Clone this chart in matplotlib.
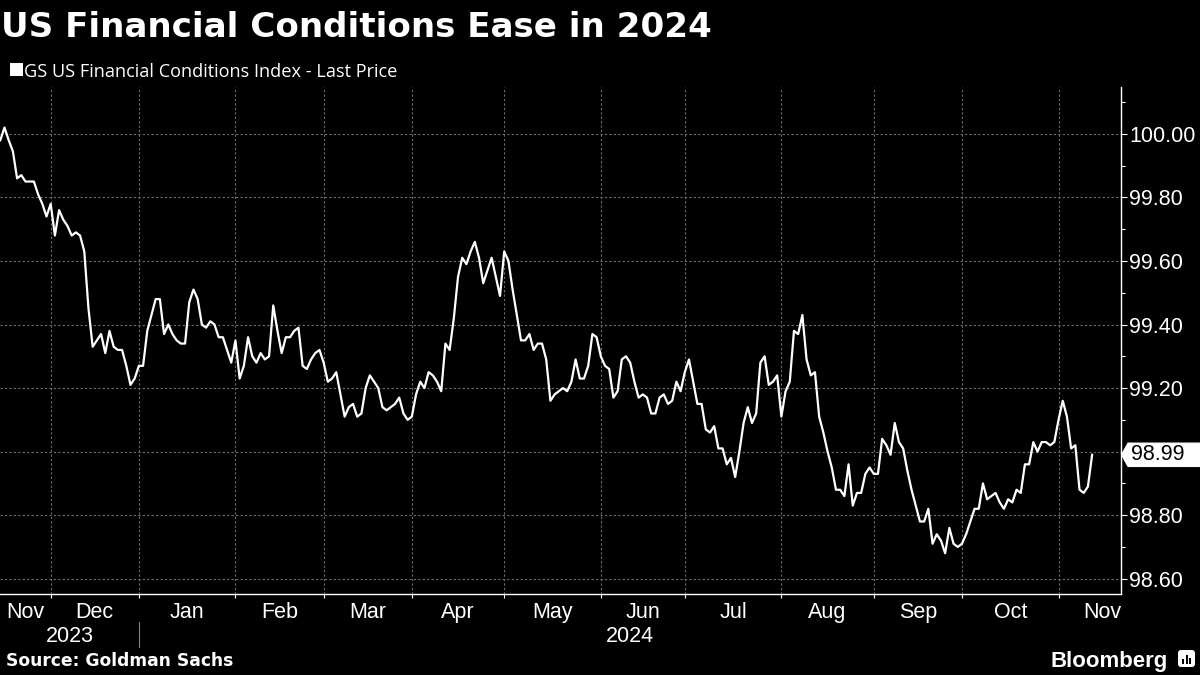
import numpy as np
import pandas as pd
import matplotlib
matplotlib.use('Agg')
import matplotlib.pyplot as plt
import matplotlib.ticker as mticker
import matplotlib.transforms as mtransforms
from matplotlib.path import Path
from matplotlib.patches import Rectangle, FancyBboxPatch

# GS US Financial Conditions Index, one value per weekday
start_date = '2023-11-15'
values = [
    99.98, 100.02, 99.98, 99.945, 99.86, 99.87, 99.85, 99.85, 99.85, 99.81,
    99.78, 99.74, 99.78, 99.68, 99.76, 99.73, 99.71, 99.68, 99.69, 99.68,
    99.63, 99.45, 99.33, 99.35, 99.37, 99.31, 99.38, 99.33, 99.32, 99.32,
    99.27, 99.21, 99.23, 99.27, 99.27, 99.38, 99.43, 99.48, 99.48, 99.37,
    99.40, 99.37, 99.35, 99.34, 99.34, 99.47, 99.51, 99.48, 99.40, 99.39,
    99.41, 99.40, 99.36, 99.36, 99.32, 99.28, 99.35, 99.23, 99.27, 99.36,
    99.30, 99.28, 99.31, 99.29, 99.30, 99.46, 99.38, 99.31, 99.36, 99.36,
    99.38, 99.39, 99.27, 99.26, 99.29, 99.31, 99.32, 99.28, 99.22, 99.23,
    99.25, 99.18, 99.11, 99.14, 99.15, 99.11, 99.12, 99.20, 99.24, 99.22,
    99.20, 99.14, 99.13, 99.14, 99.15, 99.17, 99.12, 99.10, 99.11, 99.18,
    99.22, 99.20, 99.25, 99.24, 99.22, 99.19, 99.34, 99.32, 99.42, 99.55,
    99.61, 99.59, 99.63, 99.66, 99.61, 99.53, 99.57, 99.61, 99.55, 99.49,
    99.63, 99.60, 99.51, 99.43, 99.35, 99.35, 99.37, 99.32, 99.34, 99.34,
    99.29, 99.16, 99.18, 99.19, 99.20, 99.19, 99.22, 99.29, 99.23, 99.23,
    99.27, 99.37, 99.36, 99.30, 99.27, 99.26, 99.17, 99.19, 99.29, 99.30,
    99.28, 99.22, 99.17, 99.18, 99.17, 99.12, 99.12, 99.17, 99.18, 99.15,
    99.16, 99.22, 99.19, 99.25, 99.29, 99.22, 99.15, 99.15, 99.07, 99.06,
    99.08, 99.01, 99.01, 98.96, 98.98, 98.92, 99.00, 99.09, 99.14, 99.09,
    99.12, 99.28, 99.30, 99.21, 99.22, 99.24, 99.11, 99.19, 99.22, 99.38,
    99.37, 99.43, 99.29, 99.24, 99.25, 99.11, 99.06, 99.00, 98.95, 98.88,
    98.88, 98.86, 98.96, 98.83, 98.87, 98.87, 98.93, 98.95, 98.93, 98.93,
    99.04, 99.02, 98.99, 99.09, 99.03, 99.01, 98.94, 98.88, 98.83, 98.78,
    98.78, 98.82, 98.71, 98.74, 98.72, 98.68, 98.76, 98.71, 98.70, 98.71,
    98.74, 98.78, 98.82, 98.82, 98.90, 98.85, 98.86, 98.87, 98.84, 98.82,
    98.85, 98.84, 98.88, 98.87, 98.96, 98.96, 99.03, 99.00, 99.03, 99.03,
    99.02, 99.03, 99.10, 99.16, 99.11, 99.01, 99.02, 98.88, 98.87, 98.89,
    98.99,
]
ytick_vals = [98.6, 98.8, 99.0, 99.2, 99.4, 99.6, 99.8, 100.0]

title = 'US Financial Conditions Ease in 2024'
series_name = 'GS US Financial Conditions Index - Last Price'
source = 'Source: Goldman Sachs'

plt.rcParams['font.family'] = ['Liberation Sans', 'DejaVu Sans']

dates = pd.bdate_range(start_date, periods=len(values))
x = np.arange(len(values))
xmin, xmax = -0.07, 266.8

# weekday calendar used to place month boundaries on the same index scale
cal = pd.bdate_range('2023-11-01', '2024-12-31')
pos = np.arange(len(cal)) - cal.get_loc(dates[0])
month_start = {}
for k, p in enumerate(cal.to_period('M')):
    if p not in month_start:
        month_start[p] = pos[k]
periods = list(month_start)
boundaries, mids, month_labels = [], [], []
for a, b in zip(periods[:-1], periods[1:]):
    s, e = month_start[a], month_start[b]
    if s >= xmax:
        break
    if s > xmin:
        boundaries.append(s)
    mids.append((max(s, xmin) + e) / 2)
    month_labels.append(a.strftime('%b'))
year_split = month_start[pd.Period('2024-01', 'M')]

fig = plt.figure(figsize=(12, 6.75), dpi=100, facecolor='black')
ax = fig.add_axes([0.0, 0.1196, 0.9339, 0.7508])
ax.set_facecolor('black')

ax.plot(x, values, color='white', lw=1.6, zorder=3)

ax.set_xlim(xmin, xmax)
ax.set_ylim(98.551, 100.146)

for side in ['left', 'top']:
    ax.spines[side].set_visible(False)
for side in ['right', 'bottom']:
    ax.spines[side].set_color('white')
    ax.spines[side].set_linewidth(1.0)

# x axis: ticks at month boundaries, labels centred in each month
ax.set_xticks(boundaries)
ax.set_xticks(mids, minor=True)
ax.set_xticklabels(month_labels, minor=True)
ax.tick_params(axis='x', which='major', labelbottom=False, length=3,
               width=0.8, color='white', direction='out')
ax.tick_params(axis='x', which='minor', length=0, pad=5.5,
               labelsize=15.5, labelcolor='white')

# y axis on the right
ax.yaxis.tick_right()
ax.set_yticks(ytick_vals)
ax.yaxis.set_minor_locator(mticker.AutoMinorLocator(2))
last = values[-1]
ax.yaxis.set_major_formatter(
    mticker.FuncFormatter(lambda v, _: '' if abs(v - last) < 0.05 else f'{v:.2f}'))
ax.tick_params(axis='y', which='major', length=4, width=0.8, color='white',
               direction='out', pad=2, labelsize=15.5, labelcolor='white')
ax.tick_params(axis='y', which='minor', length=3, width=0.8, color='white',
               direction='out')

ax.grid(True, which='major', color='#6e6e6e', lw=0.8, linestyle=(0, (2, 2)))

# year labels under the months
trans = mtransforms.blended_transform_factory(ax.transData, ax.transAxes)
ax.text((xmin + year_split) / 2, -0.094, '2023', transform=trans, ha='center',
        va='baseline', color='white', fontsize=15.5)
ax.text((year_split + xmax) / 2, -0.094, '2024', transform=trans, ha='center',
        va='baseline', color='white', fontsize=15.5)
ax.plot([year_split, year_split], [-0.054, -0.104], transform=trans,
        color='#888888', lw=0.8, clip_on=False)


# last price tag pointing at the axis
def tag_box(x0, y0, width, height, mutation_size):
    m = mutation_size
    left, right = x0 - 0.12 * m, x0 + width + 1.0 * m
    bottom, top = y0 - 0.05 * m, y0 + height + 0.05 * m
    tip = left - 0.3 * m
    verts = [(left, bottom), (right, bottom), (right, top), (left, top),
             (tip, (bottom + top) / 2), (left, bottom)]
    return Path(verts, closed=True)


tag_trans = mtransforms.blended_transform_factory(ax.transAxes, ax.transData)
ax.annotate(f'{last:.2f}', xy=(1, last), xycoords=tag_trans,
            xytext=(7.2, 0), textcoords='offset points', ha='left', va='center',
            color='black', fontsize=15.5, annotation_clip=False, zorder=5,
            bbox=dict(boxstyle=tag_box, fc='white', ec='white'))

# header
fig.text(0.0005, 1 - 36.7 / 675, title, color='white', fontsize=24.6,
         fontweight='bold', family=['DejaVu Sans'], va='baseline')
fig.add_artist(Rectangle((0.10, 5.99), 0.127, 0.127, facecolor='white',
                         edgecolor='none', transform=fig.dpi_scale_trans))
fig.text(24 / 1200, 1 - 76.7 / 675, series_name, color='white', fontsize=13.1,
         family=['Open Sans', 'DejaVu Sans'], va='baseline')

# footer
fig.text(6 / 1200, 1 - 666 / 675, source, color='white', fontsize=12.3,
         fontweight='bold', family=['DejaVu Sans'], va='baseline')
fig.text(1168 / 1200, 1 - 667 / 675, 'Bloomberg', color='white', fontsize=16,
         fontweight='bold', ha='right', va='baseline')
fig.add_artist(FancyBboxPatch((11.78, 0.08), 0.17, 0.17,
                              boxstyle='round,pad=0,rounding_size=0.03',
                              facecolor='white', edgecolor='none',
                              transform=fig.dpi_scale_trans))
for bx, bh in [(11.82, 0.05), (11.855, 0.09), (11.89, 0.06)]:
    fig.add_artist(Rectangle((bx, 0.11), 0.022, bh, facecolor='black',
                             edgecolor='none', transform=fig.dpi_scale_trans))

fig.savefig('out.png', dpi=100, facecolor='black')
plt.close(fig)
